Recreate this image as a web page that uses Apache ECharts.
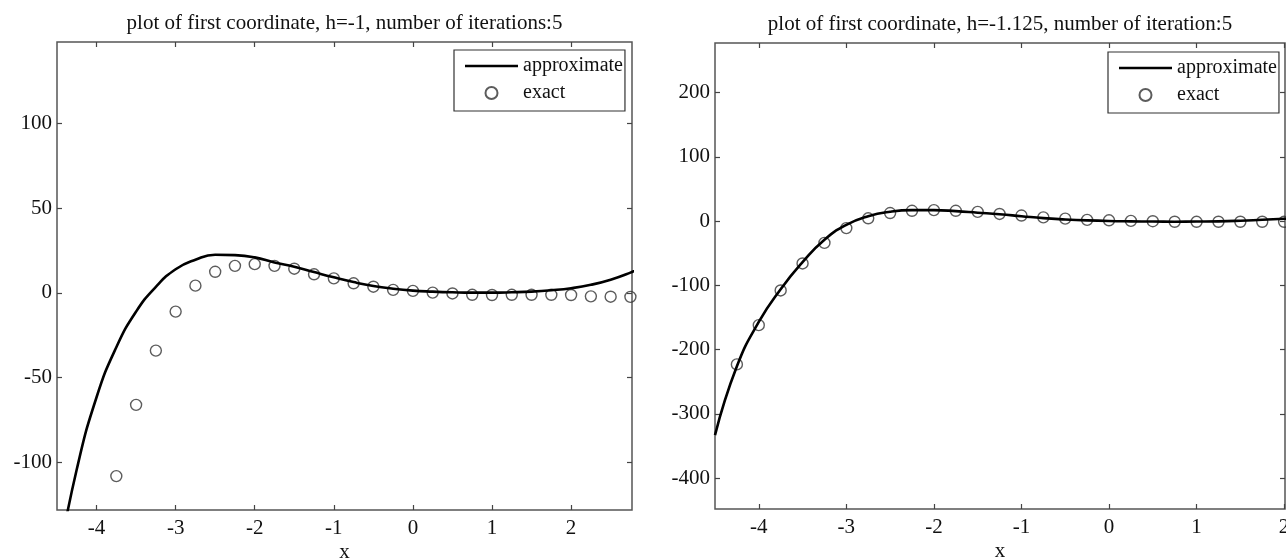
<!DOCTYPE html>
<html>
<head>
<meta charset="utf-8">
<script src="https://cdn.jsdelivr.net/npm/echarts@6/dist/echarts.min.js"></script>
<style>
  html, body { margin: 0; padding: 0; background: #fff; }
  #chart { width: 1286px; height: 558px; }
</style>
</head>
<body>
<div id="chart"></div>
<script>
// exact solution, sampled every 0.25 (same in both panels)
const exactX = [-4.25, -4, -3.75, -3.5, -3.25, -3, -2.75, -2.5, -2.25, -2, -1.75, -1.5, -1.25, -1, -0.75,
  -0.5, -0.25, 0, 0.25, 0.5, 0.75, 1, 1.25, 1.5, 1.75, 2, 2.25, 2.5, 2.75]
const exactY = [-223, -162, -108, -66, -34, -11, 4.3, 12.5, 16, 17, 16, 14.3, 11, 8.6, 5.7,
  3.7, 1.8, 1.2, 0.2, -0.3, -1.1, -1.2, -1.1, -1.1, -1.1, -1.2, -2, -2.2, -2.3]

// approximate solution, h = -1
const approxLeftX = [-4.5, -4.25, -4, -3.75, -3.5, -3.25, -3, -2.75, -2.5, -2.25, -2, -1.75, -1.5, -1.25, -1,
  -0.75, -0.5, -0.25, 0, 0.25, 0.5, 0.75, 1, 1.25, 1.5, 1.75, 2, 2.25, 2.5, 2.75, 3]
const approxLeftY = [-162, -104, -61.5, -32, -11, 3.6, 14, 19.6, 22.5, 22.3, 21, 18, 15.5, 12.3, 9.2,
  6.4, 4.1, 2.5, 1.4, 0.8, 0.4, 0.2, 0.2, 0.4, 0.8, 1.6, 2.8, 4.8, 7.8, 12, 17]

// approximate solution, h = -1.125
const approxRightX = [-4.5, -4.25, -4, -3.75, -3.5, -3.25, -3, -2.75, -2.5, -2.25, -2, -1.75, -1.5, -1.25, -1,
  -0.75, -0.5, -0.25, 0, 0.25, 0.5, 0.75, 1, 1.25, 1.5, 1.75, 2, 2.25]
const approxRightY = [-333, -226, -157, -106, -64, -29, -6, 7.5, 14.5, 17, 17, 15.5, 13, 10.5, 7.5,
  4.5, 2.5, 1, 0, -0.5, -0.8, -1, -0.8, -0.5, 0.5, 2, 3.5, 5]

const xTicks = [-4, -3, -2, -1, 0, 1, 2]
const yTicksLeft = [-100, -50, 0, 50, 100]
const yTicksRight = [-400, -300, -200, -100, 0, 100, 200]

const titleLeft = 'plot of first coordinate, h=-1, number of iterations:5'
const titleRight = 'plot of first coordinate, h=-1.125, number of iteration:5'

const FONT = '"Liberation Serif", "DejaVu Serif", serif'
const TICK_COLOR = '#444'
const TEXT_COLOR = '#111'

function zip(xs, ys) {
  return xs.map((x, i) => [x, ys[i]])
}

function xAxisCfg(gridIndex, min, max, position, name) {
  const isBottom = position === 'bottom'
  return {
    type: 'value',
    gridIndex,
    min,
    max,
    position,
    axisLine: { show: false, onZero: false },
    splitLine: { show: false },
    axisTick: {
      inside: true,
      length: 5,
      customValues: xTicks,
      lineStyle: { color: TICK_COLOR, width: 1.2 }
    },
    axisLabel: {
      show: isBottom,
      customValues: xTicks,
      margin: 8,
      color: TEXT_COLOR,
      fontFamily: FONT,
      fontSize: 21
    },
    name,
    nameLocation: 'middle',
    nameGap: isBottom ? 32 : 8,
    nameMoveOverlap: false,
    nameTextStyle: { color: TEXT_COLOR, fontFamily: FONT, fontSize: 21 }
  }
}

function yAxisCfg(gridIndex, min, max, position, ticks) {
  return {
    type: 'value',
    gridIndex,
    min,
    max,
    position,
    axisLine: { show: false, onZero: false },
    splitLine: { show: false },
    axisTick: {
      inside: true,
      length: 5,
      customValues: ticks,
      lineStyle: { color: TICK_COLOR, width: 1.2 }
    },
    axisLabel: {
      show: position === 'left',
      customValues: ticks,
      margin: 5,
      color: TEXT_COLOR,
      fontFamily: FONT,
      fontSize: 21
    }
  }
}

// thin horizontal bar used as the legend icon of the line series
const LINE_ICON = 'path://M0,0 L53,0 L53,2.6 L0,2.6 Z'

function legendCfg(left, top) {
  return {
    data: [
      { name: 'approximate', icon: LINE_ICON, itemStyle: { color: '#000', borderWidth: 0 } },
      { name: 'exact' }
    ],
    orient: 'vertical',
    left,
    top,
    itemWidth: 53,
    itemHeight: 12,
    itemGap: 7,
    padding: [6, 2, 8, 11],
    borderColor: '#333',
    borderWidth: 1.2,
    borderRadius: 0,
    backgroundColor: '#fff',
    selectedMode: false,
    textStyle: { color: TEXT_COLOR, fontFamily: FONT, fontSize: 20 }
  }
}

const lineStyle = { color: '#000', width: 2.6 }
const circleStyle = { color: 'transparent', borderColor: '#333', borderWidth: 1.4 }

const gridBase = { show: true, borderColor: '#555', borderWidth: 1.5, backgroundColor: '#fff', outerBoundsMode: 'none', containLabel: false }

const chart = echarts.init(document.getElementById('chart'))

chart.setOption({
  animation: false,
  backgroundColor: '#fff',
  grid: [
    Object.assign({ left: 57, top: 42, width: 575, height: 468 }, gridBase),
    Object.assign({ left: 715, top: 43, width: 570, height: 466 }, gridBase)
  ],
  legend: [legendCfg(454, 50), legendCfg(1108, 52)],
  xAxis: [
    xAxisCfg(0, -4.5, 2.77, 'bottom', 'x'),
    xAxisCfg(0, -4.5, 2.77, 'top', titleLeft),
    xAxisCfg(1, -4.5, 2.01, 'bottom', 'x'),
    xAxisCfg(1, -4.5, 2.01, 'top', titleRight)
  ],
  yAxis: [
    yAxisCfg(0, -128, 148, 'left', yTicksLeft),
    yAxisCfg(0, -128, 148, 'right', yTicksLeft),
    yAxisCfg(1, -448, 277, 'left', yTicksRight),
    yAxisCfg(1, -448, 277, 'right', yTicksRight)
  ],
  series: [
    {
      name: 'approximate',
      type: 'line',
      xAxisIndex: 0,
      yAxisIndex: 0,
      data: zip(approxLeftX, approxLeftY),
      smooth: true,
      symbol: 'none',
      itemStyle: { color: '#000' },
      lineStyle,
      z: 3
    },
    {
      name: 'exact',
      type: 'scatter',
      xAxisIndex: 0,
      yAxisIndex: 0,
      data: zip(exactX, exactY),
      symbol: 'circle',
      symbolSize: 11,
      itemStyle: circleStyle,
      z: 2
    },
    {
      name: 'approximate',
      type: 'line',
      xAxisIndex: 2,
      yAxisIndex: 2,
      data: zip(approxRightX, approxRightY),
      smooth: true,
      symbol: 'none',
      itemStyle: { color: '#000' },
      lineStyle,
      z: 3
    },
    {
      name: 'exact',
      type: 'scatter',
      xAxisIndex: 2,
      yAxisIndex: 2,
      data: zip(exactX, exactY),
      symbol: 'circle',
      symbolSize: 11,
      itemStyle: circleStyle,
      z: 2
    }
  ]
})
</script>
</body>
</html>
